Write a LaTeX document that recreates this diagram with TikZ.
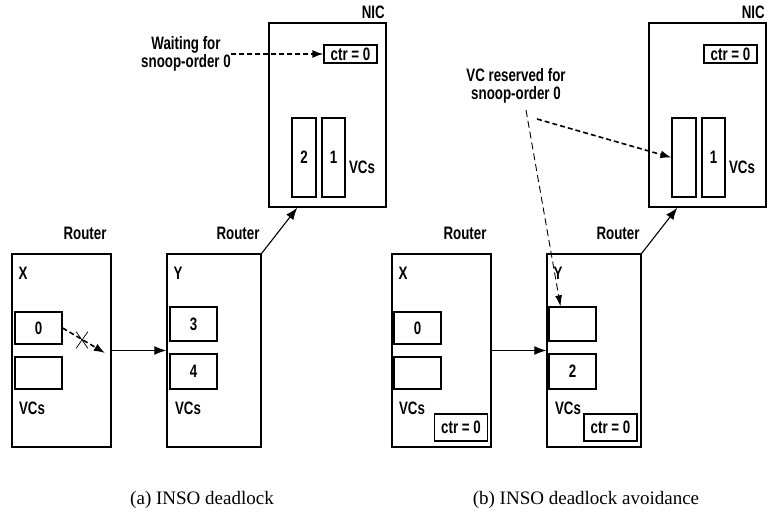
\documentclass[tikz,border=0pt]{standalone}
\usepackage{fontspec}
\setmainfont{Liberation Serif}
\newfontfamily\lblfont[FakeStretch=0.74]{Liberation Sans}
\usetikzlibrary{arrows.meta,shapes.misc}

\tikzset{
  lbl/.style={font=\lblfont\bfseries\fontsize{18}{18}\selectfont, inner sep=0pt},
  unitbox/.style={draw, line width=1.5pt, inner sep=0pt},
  vcbox/.style={draw, line width=1.2pt, inner sep=0pt, lbl},
  ctrbox/.style={draw, line width=1.2pt, inner sep=0pt, lbl, minimum width=53pt},
  link/.style={line width=1.1pt, -{Latex[length=12pt,width=9pt]}},
  hint/.style={line width=1.6pt, dash pattern=on 5pt off 3pt, -{Latex[length=11pt,width=8pt]}},
  caption/.style={font=\fontsize{19}{22}\selectfont, inner sep=0pt},
}

\begin{document}
\begin{tikzpicture}[x=1pt,y=-1pt]
\useasboundingbox (0,0) rectangle (772,514);
%
% (a) INSO deadlock
\node[unitbox, minimum width=117pt, minimum height=184pt] (nicA) at (327.5,115) {};
\node[lbl, anchor=base east] (nicAlbl) at (385,19) {NIC};
\node[ctrbox, minimum height=18pt] (ctrA) at (350.5,54) {ctr = 0};
\node[vcbox, minimum width=24pt, minimum height=79pt] (vcA2) at (304,157.5) {2};
\node[vcbox, minimum width=23pt, minimum height=79pt] (vcA1) at (333.5,157.5) {1};
\node[lbl] (vcsNicA) at (362,167) {VCs};
\node[lbl, align=center] (waitA) at (186,54) {Waiting for\\snoop-order 0};
\draw[hint] (waitA.east) -- (ctrA.west);
%
\node[lbl] (rtXAlbl) at (85,233) {Router};
\node[lbl] (rtYAlbl) at (238,233) {Router};
\node[unitbox, minimum width=99pt, minimum height=193pt] (rtXA) at (61.5,350.5) {};
\node[unitbox, minimum width=94pt, minimum height=193pt] (rtYA) at (214,350.5) {};
\node[lbl] (nameXA) at (23,273) {X};
\node[lbl] (nameYA) at (178,273) {Y};
\node[vcbox, minimum width=47pt, minimum height=32pt] (vcA0) at (38.5,328) {0};
\node[vcbox, minimum width=47pt, minimum height=32pt] (vcAe) at (38.5,373) {};
\node[vcbox, minimum width=47pt, minimum height=34pt] (vcA3) at (193.5,324) {3};
\node[vcbox, minimum width=47pt, minimum height=35pt] (vcA4) at (193.5,371.5) {4};
\node[lbl] (vcsXA) at (32,408) {VCs};
\node[lbl] (vcsYA) at (188,408) {VCs};
%
\draw[link] (rtXA) -- (rtYA);
\coordinate (stopA) at (105,353);
\draw[hint] (vcA0.east) -- (stopA);
\node[cross out, draw, line width=0.7pt, inner sep=0pt, minimum width=11pt, minimum height=16pt] (blockA) at (82,340) {};
\draw[link] (rtYA.north east) -- ([xshift=29pt]nicA.south west);
\node[caption] (capA) at (202,500) {(a) INSO deadlock};
%
% (b) INSO deadlock avoidance
\node[unitbox, minimum width=117pt, minimum height=184pt] (nicB) at (707.5,115) {};
\node[lbl, anchor=base east] (nicBlbl) at (765,19) {NIC};
\node[ctrbox, minimum height=18pt] (ctrB) at (730.5,54) {ctr = 0};
\node[vcbox, minimum width=24pt, minimum height=79pt] (vcBr) at (684,157.5) {};
\node[vcbox, minimum width=23pt, minimum height=79pt] (vcB1) at (713.5,157.5) {1};
\node[lbl] (vcsNicB) at (742,167) {VCs};
\node[lbl, align=center] (resvB) at (516,86) {VC reserved for\\snoop-order 0};
%
\node[lbl] (rtXBlbl) at (465,233) {Router};
\node[lbl] (rtYBlbl) at (618,233) {Router};
\node[unitbox, minimum width=99pt, minimum height=193pt] (rtXB) at (441.5,350.5) {};
\node[unitbox, minimum width=94pt, minimum height=193pt] (rtYB) at (594,350.5) {};
\node[lbl] (nameXB) at (403,273) {X};
\node[lbl] (nameYB) at (558,273) {Y};
\node[vcbox, minimum width=47pt, minimum height=32pt] (vcB0) at (417.5,328) {0};
\node[vcbox, minimum width=47pt, minimum height=32pt] (vcBe) at (417.5,373) {};
\node[vcbox, minimum width=47pt, minimum height=34pt] (vcBt) at (572.5,324) {};
\node[vcbox, minimum width=47pt, minimum height=35pt] (vcB2) at (572.5,371.5) {2};
\node[lbl] (vcsXB) at (412,408) {VCs};
\node[lbl] (vcsYB) at (568,408) {VCs};
\node[ctrbox, minimum height=27pt] (ctrXB) at (461,427.5) {ctr = 0};
\node[ctrbox, minimum height=27pt] (ctrYB) at (610.5,427.5) {ctr = 0};
%
\draw[link] (rtXB) -- (rtYB);
\draw[link] (rtYB.north east) -- ([xshift=29pt]nicB.south west);
\coordinate (resvNic) at (537,119);
\coordinate (resvRt) at (526,110);
\draw[hint] (resvNic) -- (vcBr.west);
\draw[line width=0.9pt, dash pattern=on 7pt off 4pt, -{Latex[length=11pt,width=7pt]}] (resvRt) -- ([xshift=-12pt]vcBt.north);
\node[caption] (capB) at (586,500) {(b) INSO deadlock avoidance};
%
\end{tikzpicture}
\end{document}
